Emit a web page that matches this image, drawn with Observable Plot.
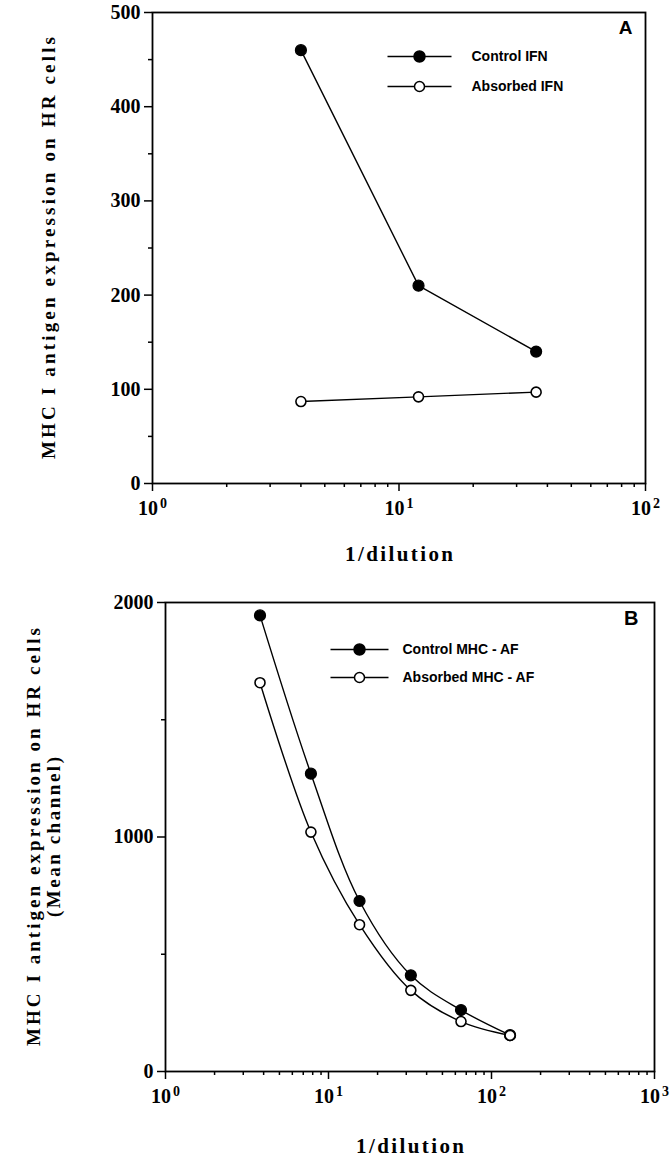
<!DOCTYPE html>
<html>
<head>
<meta charset="utf-8">
<script src="https://cdn.jsdelivr.net/npm/d3@7"></script>
<script src="https://cdn.jsdelivr.net/npm/@observablehq/plot@0.6"></script>
<style>
  html, body { margin: 0; padding: 0; background: #fff; }
  #chart svg { display: block; }
</style>
</head>
<body>
<div id="chart"></div>
<script>
// ---- Panel A data ----
const dilutionA = [4, 12, 36];
const controlA = [460, 210, 140];
const absorbedA = [87, 92, 97];
const seriesA = ["Control IFN", "Absorbed IFN"];
const yTicksA = [0, 100, 200, 300, 400, 500];
const yMinorA = [50, 150, 250, 350, 450];
const xTicksA = [1, 10, 100];
const xMinorA = [2, 3, 4, 5, 6, 7, 8, 9, 20, 30, 40, 50, 60, 70, 80, 90];

// ---- Panel B data ----
const dilutionB = [3.8, 7.8, 15.5, 32, 65, 130];
const controlB = [1945, 1270, 727, 410, 262, 155];
const absorbedB = [1658, 1021, 626, 346, 213, 154];
const seriesB = ["Control MHC - AF", "Absorbed MHC - AF"];
const yTicksB = [0, 1000, 2000];
const yMinorB = [500, 1500];
const xTicksB = [1, 10, 100, 1000];
const xMinorB = [2,3,4,5,6,7,8,9,20,30,40,50,60,70,80,90,200,300,400,500,600,700,800,900];

const yLabel = "MHC I antigen expression on HR cells";
const yLabel2 = "(Mean channel)";
const xLabel = "1/dilution";

const SERIF = "'Liberation Serif', 'Times New Roman', serif";
const SANS = "'Liberation Sans', Arial, sans-serif";

const rowsA = dilutionA.flatMap((d, i) => [
  {x: d, y: controlA[i], s: seriesA[0]},
  {x: d, y: absorbedA[i], s: seriesA[1]}
]);
const rowsB = dilutionB.flatMap((d, i) => [
  {x: d, y: controlB[i], s: seriesB[0]},
  {x: d, y: absorbedB[i], s: seriesB[1]}
]);

const hline = (half) => ({draw(ctx) { ctx.moveTo(-half, 0); ctx.lineTo(half, 0); }});
const expFmt = d => `10^${Math.round(Math.log10(d))}`;

function legend(names, lineDx, textDx, dys, half, fs) {
  const marks = [];
  names.forEach((name, i) => {
    marks.push(Plot.dot([0], {frameAnchor: "top-left", dx: lineDx, dy: dys[i], symbol: hline(half), r: 5, stroke: "black", fill: "none", strokeWidth: 1.3}));
    marks.push(Plot.dot([0], {frameAnchor: "top-left", dx: lineDx, dy: dys[i], r: i === 0 ? 5.5 : 5, fill: i === 0 ? "black" : "white", stroke: "black", strokeWidth: 1.5}));
    marks.push(Plot.text([name], {text: d => d, frameAnchor: "top-left", dx: textDx, dy: dys[i], textAnchor: "start", lineAnchor: "middle", fontFamily: SANS, fontSize: fs, fontWeight: "bold"}));
  });
  return marks;
}

function panel(opts) {
  const {rows, names, xDomain, yDomain, xTicks, xMinor, yTicks, yMinor, margin, height, curve, extra} = opts;
  return Plot.plot({
    width: 672,
    height,
    marginTop: margin[0], marginRight: margin[1], marginBottom: margin[2], marginLeft: margin[3],
    style: {fontFamily: SERIF, fontSize: "20px", fontWeight: "bold", color: "black", background: "white"},
    x: {type: "log", domain: xDomain},
    y: {domain: yDomain},
    marks: [
      Plot.frame({stroke: "black", strokeWidth: 1.8}),
      Plot.axisY({ticks: yTicks, tickSize: 8, tickPadding: 4, tickFormat: d => String(d), label: null, strokeWidth: 1.5}),
      Plot.axisY({ticks: yMinor, tickSize: 4, tickFormat: () => "", label: null, strokeWidth: 1.5}),
      Plot.axisX({ticks: xTicks, tickSize: 8, tickPadding: 9, tickFormat: expFmt, label: null, strokeWidth: 1.5}),
      Plot.axisX({ticks: xMinor, tickSize: 4, tickFormat: () => "", label: null, strokeWidth: 1.5}),
      Plot.line(rows, {x: "x", y: "y", z: "s", stroke: "black", strokeWidth: 1.4, curve}),
      Plot.dot(rows.filter(d => d.s === names[0]), {x: "x", y: "y", r: 5.5, fill: "black", stroke: "black", strokeWidth: 1.2}),
      Plot.dot(rows.filter(d => d.s === names[1]), {x: "x", y: "y", r: 5, fill: "white", stroke: "black", strokeWidth: 1.6}),
      ...extra
    ]
  });
}

const plotA = panel({
  rows: rowsA, names: seriesA, xDomain: [1, 100], yDomain: [0, 500],
  xTicks: xTicksA, xMinor: xMinorA, yTicks: yTicksA, yMinor: yMinorA,
  margin: [12, 27, 97, 152], height: 580, curve: "linear",
  extra: [
    ...legend(seriesA, 267, 319, [44, 74], 32, 14),
    Plot.text(["A"], {text: d => d, frameAnchor: "top-right", dx: -13, dy: 8, textAnchor: "end", lineAnchor: "top", fontFamily: SANS, fontSize: 19, fontWeight: "bold"}),
    Plot.text([xLabel], {text: d => d, frameAnchor: "bottom", dy: 77, textAnchor: "middle", lineAnchor: "bottom", fontFamily: SERIF, fontSize: 21, fontWeight: "bold"}),
    Plot.text([yLabel], {text: d => d, frameAnchor: "left", rotate: -90, dx: -104, textAnchor: "middle", lineAnchor: "middle", fontFamily: SERIF, fontSize: 19, fontWeight: "bold"})
  ]
});

const plotB = panel({
  rows: rowsB, names: seriesB, xDomain: [1, 1000], yDomain: [0, 2000],
  xTicks: xTicksB, xMinor: xMinorB, yTicks: yTicksB, yMinor: yMinorB,
  margin: [22, 18, 86, 165], height: 577, curve: "catmull-rom",
  extra: [
    ...legend(seriesB, 194, 237, [47, 75], 29, 14),
    Plot.text(["B"], {text: d => d, frameAnchor: "top-right", dx: -16, dy: 8, textAnchor: "end", lineAnchor: "top", fontFamily: SANS, fontSize: 20, fontWeight: "bold"}),
    Plot.text([xLabel], {text: d => d, frameAnchor: "bottom", dy: 81, textAnchor: "middle", lineAnchor: "bottom", fontFamily: SERIF, fontSize: 21, fontWeight: "bold"}),
    Plot.text([yLabel], {text: d => d, frameAnchor: "left", rotate: -90, dx: -132, textAnchor: "middle", lineAnchor: "middle", fontFamily: SERIF, fontSize: 19, fontWeight: "bold"}),
    Plot.text([yLabel2], {text: d => d, frameAnchor: "left", rotate: -90, dx: -112, textAnchor: "middle", lineAnchor: "middle", fontFamily: SERIF, fontSize: 19, fontWeight: "bold"})
  ]
});

const chart = document.getElementById("chart");
chart.appendChild(plotA);
chart.appendChild(plotB);

// post-processing: superscript exponents and spaced labels
function polish(svg, lengths) {
  d3.select(svg).selectAll("text").each(function() {
    const t = d3.select(this);
    const s = this.textContent;
    const m = /^10\^(\d)$/.exec(s);
    if (m) {
      t.text("10");
      t.append("tspan").attr("dy", "-0.5em").attr("dx", "2").attr("font-size", "0.7em").text(m[1]);
    } else if (lengths[s]) {
      t.attr("textLength", lengths[s]).attr("lengthAdjust", "spacing");
    }
  });
}
polish(plotA, {[yLabel]: 422, [xLabel]: 108});
polish(plotB, {[yLabel]: 418, [yLabel2]: 160, [xLabel]: 108});
</script>
</body>
</html>
